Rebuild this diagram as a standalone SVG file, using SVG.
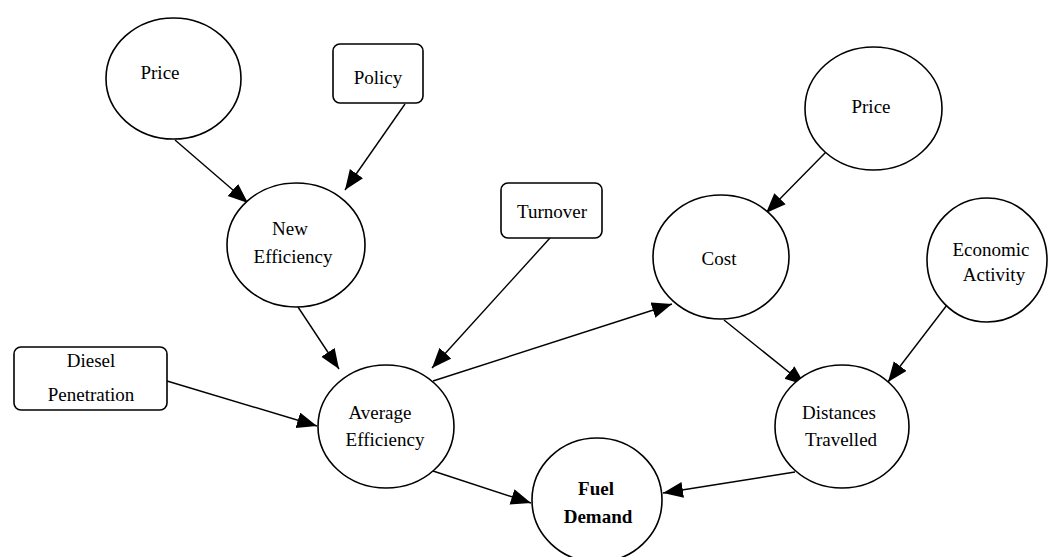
<svg xmlns="http://www.w3.org/2000/svg" width="1049" height="557" viewBox="0 0 1049 557">
  <style>
    .node { fill: #ffffff; stroke: #000000; stroke-width: 1.6; }
    .label { font-family: "Liberation Serif", "Times New Roman", serif; font-size: 19px; fill: #000000; text-anchor: middle; }
    .bold { font-weight: bold; }
    .edge { stroke: #000000; stroke-width: 1.4; fill: none; marker-end: url(#head); }
  </style>
  <defs>
    <marker id="head" markerUnits="userSpaceOnUse" markerWidth="22" markerHeight="18" refX="20" refY="8" orient="auto">
      <path d="M0,0 L20,8 L0,16 Z" fill="#000000"/>
    </marker>
  </defs>
  <rect width="1049" height="557" fill="#ffffff"/>

  <g id="connectors">
    <line class="edge" x1="175" y1="140" x2="248" y2="203"/>
    <line class="edge" x1="405" y1="104" x2="345" y2="190"/>
    <line class="edge" x1="298" y1="307" x2="339" y2="369"/>
    <line class="edge" x1="550" y1="238" x2="432" y2="368"/>
    <line class="edge" x1="167" y1="381" x2="317" y2="426"/>
    <line class="edge" x1="433" y1="381" x2="672" y2="304"/>
    <line class="edge" x1="826" y1="152" x2="766" y2="213"/>
    <line class="edge" x1="724" y1="320" x2="805" y2="385"/>
    <line class="edge" x1="947" y1="305" x2="888" y2="382"/>
    <line class="edge" x1="433" y1="471" x2="531" y2="503"/>
    <line class="edge" x1="795" y1="472" x2="663" y2="493"/>
  </g>

  <g id="price-efficiency">
    <ellipse class="node" cx="173.5" cy="78.5" rx="67.5" ry="60.5"/>
    <text class="label" x="160" y="79">Price</text>
  </g>
  <g id="policy">
    <rect class="node" x="333" y="44" width="90" height="59" rx="7"/>
    <text class="label" x="378" y="84">Policy</text>
  </g>
  <g id="new-efficiency">
    <ellipse class="node" cx="296" cy="245" rx="69" ry="62"/>
    <text class="label" x="290" y="235">New</text>
    <text class="label" x="293" y="263">Efficiency</text>
  </g>
  <g id="turnover">
    <rect class="node" x="501" y="183" width="101" height="55" rx="7"/>
    <text class="label" x="552" y="218">Turnover</text>
  </g>
  <g id="diesel-penetration">
    <rect class="node" x="14" y="347" width="153" height="63" rx="7"/>
    <text class="label" x="91" y="367">Diesel</text>
    <text class="label" x="91" y="401">Penetration</text>
  </g>
  <g id="average-efficiency">
    <ellipse class="node" cx="386" cy="426.5" rx="68" ry="61.5"/>
    <text class="label" x="380" y="419">Average</text>
    <text class="label" x="385" y="446">Efficiency</text>
  </g>
  <g id="price-cost">
    <ellipse class="node" cx="873.5" cy="108.5" rx="68.5" ry="61.5"/>
    <text class="label" x="871" y="113">Price</text>
  </g>
  <g id="cost">
    <ellipse class="node" cx="721" cy="257" rx="68" ry="62"/>
    <text class="label" x="719" y="265">Cost</text>
  </g>
  <g id="economic-activity">
    <ellipse class="node" cx="987" cy="260" rx="60" ry="62"/>
    <text class="label" x="991" y="256">Economic</text>
    <text class="label" x="994" y="281">Activity</text>
  </g>
  <g id="distances-travelled">
    <ellipse class="node" cx="842" cy="426.5" rx="67" ry="61.5"/>
    <text class="label" x="839" y="419">Distances</text>
    <text class="label" x="841" y="446">Travelled</text>
  </g>
  <g id="fuel-demand">
    <ellipse class="node" cx="597" cy="500" rx="65" ry="62"/>
    <text class="label bold" x="596" y="495">Fuel</text>
    <text class="label bold" x="598" y="523">Demand</text>
  </g>
</svg>
